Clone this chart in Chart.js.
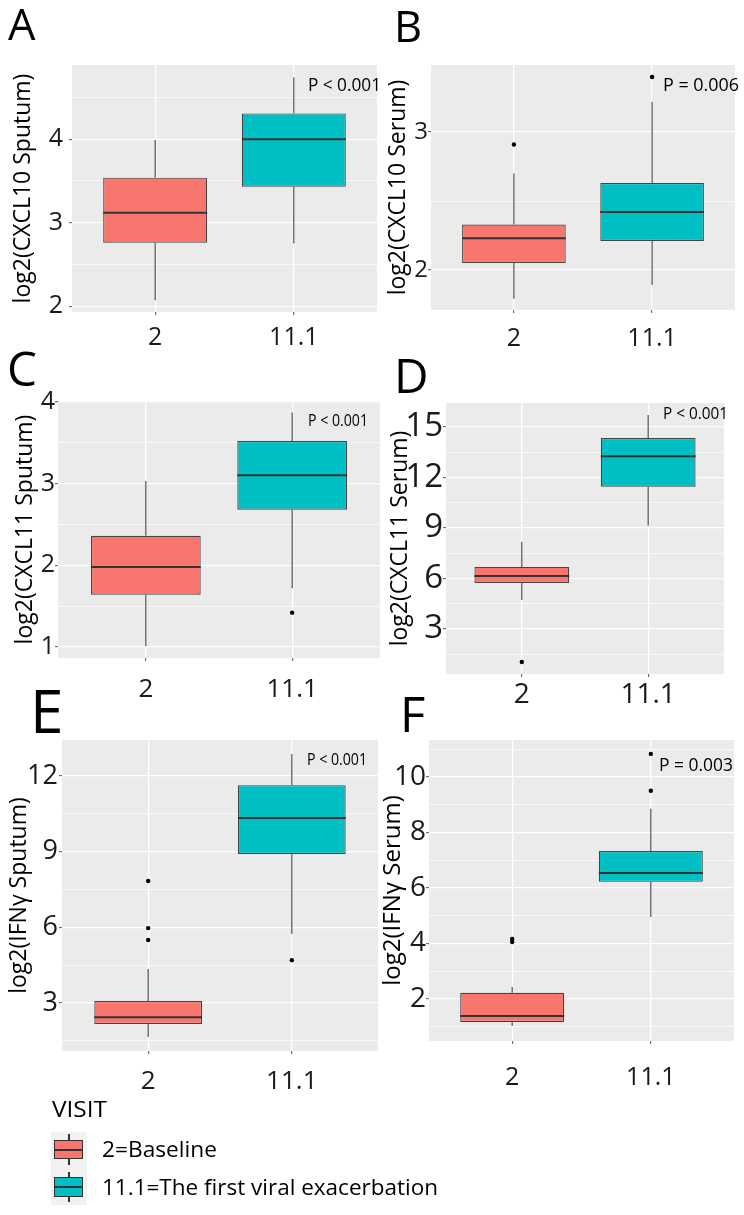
<!DOCTYPE html>
<html>
<head>
<meta charset="utf-8">
<script src="https://cdn.jsdelivr.net/npm/chart.js@4.4.0/dist/chart.umd.min.js"></script>
<style>
  body { margin: 0; background: #fff; }
  #fig { position: relative; width: 744px; height: 1215px; overflow: hidden; font-family: 'Open Sans', sans-serif; color: #000; }
  #fig canvas { position: absolute; }
  .txt { position: absolute; white-space: nowrap; line-height: 1; transform-origin: 0 0; }
  .blk { position: absolute; box-sizing: border-box; }
</style>
</head>
<body>
<div id="fig"></div>
<script>
// visits on the x axis
const visits = ["2", "11.1"];
const visitNames = ["2=Baseline", "11.1=The first viral exacerbation"];
const boxColors = ["#F8766D", "#00BFC4"];

// box stats: [lower whisker, Q1, median, Q3, upper whisker]
const cxcl10SputumV2 = [2.07, 2.76, 3.12, 3.54, 3.99];
const cxcl10SputumV11 = [2.75, 3.43, 4.00, 4.31, 4.74];
const cxcl10SputumOut2 = [];
const cxcl10SputumOut11 = [];
const cxcl10SputumTicks = [2, 3, 4];

const cxcl10SerumV2 = [1.79, 2.05, 2.23, 2.33, 2.70];
const cxcl10SerumV11 = [1.89, 2.21, 2.42, 2.63, 3.22];
const cxcl10SerumOut2 = [2.91];
const cxcl10SerumOut11 = [3.40];
const cxcl10SerumTicks = [2, 3];

const cxcl11SputumV2 = [1.01, 1.64, 1.98, 2.36, 3.03];
const cxcl11SputumV11 = [1.72, 2.68, 3.10, 3.52, 3.87];
const cxcl11SputumOut2 = [];
const cxcl11SputumOut11 = [1.42];
const cxcl11SputumTicks = [1, 2, 3, 4];

const cxcl11SerumV2 = [4.73, 5.74, 6.15, 6.69, 8.18];
const cxcl11SerumV11 = [9.13, 11.45, 13.27, 14.35, 15.71];
const cxcl11SerumOut2 = [1.04];
const cxcl11SerumOut11 = [];
const cxcl11SerumTicks = [3, 6, 9, 12, 15];

const ifngSputumV2 = [1.65, 2.17, 2.44, 3.08, 4.35];
const ifngSputumV11 = [5.74, 8.91, 10.34, 11.64, 12.87];
const ifngSputumOut2 = [5.50, 5.97, 7.84];
const ifngSputumOut11 = [4.70];
const ifngSputumTicks = [3, 6, 9, 12];

const ifngSerumV2 = [1.03, 1.17, 1.39, 2.22, 2.43];
const ifngSerumV11 = [4.95, 6.22, 6.54, 7.33, 8.85];
const ifngSerumOut2 = [4.05, 4.16];
const ifngSerumOut11 = [9.50, 10.83];
const ifngSerumTicks = [2, 4, 6, 8, 10];

const pLabels = ["P < 0.001", "P = 0.006", "P < 0.001", "P < 0.001", "P < 0.001", "P = 0.003"];

// layout of each panel (plot = [left, top, right, bottom] in page px)
const panels = [
  { letter: "A", title: "log2(CXCL10 Sputum)", stats: [cxcl10SputumV2, cxcl10SputumV11], out: [cxcl10SputumOut2, cxcl10SputumOut11], ticks: cxcl10SputumTicks,
    col: 0, plot: [72, 65, 377, 312], yr: [1.93, 4.89], yFont: 25, xFont: 25, yPad: 6, xPad: 8, titleFont: 23, titleC: 23,
    letterPos: [8, 10, 31], pPos: [308, 78, 13.5, 73] },
  { letter: "B", title: "log2(CXCL10 Serum)", stats: [cxcl10SerumV2, cxcl10SerumV11], out: [cxcl10SerumOut2, cxcl10SerumOut11], ticks: cxcl10SerumTicks,
    col: 1, plot: [431, 65, 735, 310], yr: [1.709, 3.487], yFont: 24, xFont: 25, yPad: 0, xPad: 11, titleFont: 23, titleC: 398,
    letterPos: [394, 12, 31], pPos: [663, 79, 12.5, 76] },
  { letter: "C", title: "log2(CXCL11 Sputum)", stats: [cxcl11SputumV2, cxcl11SputumV11], out: [cxcl11SputumOut2, cxcl11SputumOut11], ticks: cxcl11SputumTicks,
    col: 0, plot: [58, 401, 380, 658], yr: [0.865, 4.01], yFont: 25, xFont: 26, yPad: 0, xPad: 13, titleFont: 23, titleC: 25,
    letterPos: [7, 352, 34], pPos: [308, 416, 11, 60] },
  { letter: "D", title: "log2(CXCL11 Serum)", stats: [cxcl11SerumV2, cxcl11SerumV11], out: [cxcl11SerumOut2, cxcl11SerumOut11], ticks: cxcl11SerumTicks,
    col: 1, plot: [446, 403, 724, 674], yr: [0.326, 16.43], yFont: 33, xFont: 28, yPad: 0, xPad: 1, titleFont: 23, titleC: 400,
    letterPos: [394, 359, 34], pPos: [663, 408, 11.5, 65] },
  { letter: "E", title: "log2(IFNγ Sputum)", stats: [ifngSputumV2, ifngSputumV11], out: [ifngSputumOut2, ifngSputumOut11], ticks: ifngSputumTicks,
    col: 0, plot: [62, 740, 378, 1051], yr: [1.097, 13.43], yFont: 27, xFont: 26, yPad: 1, xPad: 12, titleFont: 23, titleC: 19,
    letterPos: [30, 690, 43], pPos: [307, 755, 11, 60] },
  { letter: "F", title: "log2(IFNγ Serum)", stats: [ifngSerumV2, ifngSerumV11], out: [ifngSerumOut2, ifngSerumOut11], ticks: ifngSerumTicks,
    col: 1, plot: [429, 740, 734, 1041], yr: [0.486, 11.33], yFont: 28, xFont: 25, yPad: 0, xPad: 19, titleFont: 24, titleC: 393,
    letterPos: [400, 698, 35], pPos: [659, 758, 13, 74] }
];

const fig = document.getElementById('fig');
Chart.defaults.font.family = "'Open Sans', sans-serif";

const panelBg = {
  id: 'panelBg',
  beforeDraw(chart) {
    const { ctx, chartArea: a } = chart;
    ctx.save();
    ctx.fillStyle = '#ebebeb';
    ctx.fillRect(a.left, a.top, a.right - a.left, a.bottom - a.top);
    ctx.restore();
  }
};

// text placed by its cap-top; optional width squeezes it to the measured span
function addText(str, x, capTop, capH, width) {
  const fs = capH / 0.714;
  const d = document.createElement('div');
  d.className = 'txt';
  d.textContent = str;
  d.style.fontSize = fs + 'px';
  d.style.left = x + 'px';
  d.style.top = (capTop - 0.174 * fs) + 'px';
  fig.appendChild(d);
  if (width) {
    const w = d.getBoundingClientRect().width;
    d.style.transform = 'scaleX(' + (width / w) + ')';
  }
  return d;
}

function minorTicks(major, lo, hi) {
  const step = major[1] - major[0];
  const res = [];
  for (let v = major[0] - step / 2; v <= hi; v += step) if (v >= lo) res.push(v);
  return res;
}

function makePanel(pn, k) {
  const [l, t, r, b] = pn.plot;
  const cl = pn.col === 0 ? 0 : 372;
  const ct = t - 25;
  const xh = 70;
  const cv = document.createElement('canvas');
  cv.width = r + 4 - cl;
  cv.height = b - ct + xh;
  cv.style.left = cl + 'px';
  cv.style.top = ct + 'px';
  fig.appendChild(cv);

  const isMajor = v => pn.ticks.some(m => Math.abs(m - v) < 1e-6);
  const yTicks = pn.ticks.concat(minorTicks(pn.ticks, pn.yr[0], pn.yr[1])).sort((a, c) => a - c);

  const datasets = [];
  pn.stats.forEach((s, i) => {
    const x = i + 1;
    datasets.push({ type: 'line', data: [{ x, y: s[0] }, { x, y: s[1] }], borderColor: '#444', borderWidth: 1.1, pointRadius: 0, order: 3 });
    datasets.push({ type: 'line', data: [{ x, y: s[3] }, { x, y: s[4] }], borderColor: '#444', borderWidth: 1.1, pointRadius: 0, order: 3 });
    datasets.push({ type: 'line', data: [{ x: x - 0.375, y: s[2] }, { x: x + 0.375, y: s[2] }], borderColor: '#333333', borderWidth: 2, pointRadius: 0, order: 1 });
    datasets.push({ type: 'scatter', data: pn.out[i].map(y => ({ x, y })), pointRadius: 2.2, backgroundColor: '#000', borderWidth: 0, order: 0 });
  });
  datasets.push({
    type: 'bar',
    data: pn.stats.map((s, i) => ({ x: i + 1, y: [s[1], s[3]] })),
    backgroundColor: boxColors, borderColor: '#444', borderWidth: 1.2, borderSkipped: false,
    barPercentage: 0.75, categoryPercentage: 1, order: 2
  });

  new Chart(cv, {
    type: 'scatter',
    data: { datasets },
    plugins: [panelBg],
    options: {
      responsive: false, animation: false, events: [], devicePixelRatio: 1,
      layout: { padding: { top: 25, right: 4, left: 0, bottom: 0 } },
      plugins: { legend: { display: false }, tooltip: { enabled: false } },
      scales: {
        x: {
          type: 'linear', min: 0.4, max: 2.6, offset: false, bounds: 'data',
          afterBuildTicks: ax => { ax.ticks = visits.map((v, i) => ({ value: i + 1 })); },
          afterFit: ax => { ax.height = xh; },
          ticks: { callback: v => visits[Math.round(v) - 1], font: { size: pn.xFont }, color: '#1a1a1a', padding: pn.xPad, maxRotation: 0, autoSkip: false },
          grid: { offset: false, color: '#fff', lineWidth: 1.3, tickColor: '#555', tickLength: 3, tickWidth: 1 },
          border: { display: false }
        },
        y: {
          type: 'linear', min: pn.yr[0], max: pn.yr[1], bounds: 'data', beginAtZero: false,
          afterBuildTicks: ax => { ax.ticks = yTicks.map(v => ({ value: v })); },
          afterFit: ax => { ax.width = l - cl; },
          ticks: { callback: v => isMajor(v) ? String(v) : '', font: { size: pn.yFont }, color: '#1a1a1a', padding: pn.yPad, autoSkip: false },
          grid: {
            offset: false,
            color: '#fff',
            lineWidth: ctx => (ctx.tick && isMajor(ctx.tick.value)) ? 1.3 : 0.7,
            tickColor: ctx => (ctx.tick && isMajor(ctx.tick.value)) ? '#555' : 'rgba(0,0,0,0)',
            tickLength: 3, tickWidth: 1
          },
          border: { display: false },
          title: {
            display: true, text: pn.title, color: '#000',
            font: { size: pn.titleFont },
            padding: { top: pn.titleC - cl - 0.6 * pn.titleFont, bottom: 0 }
          }
        }
      }
    }
  });

  addText(pn.letter, pn.letterPos[0], pn.letterPos[1], pn.letterPos[2]);
  addText(pLabels[k], pn.pPos[0], pn.pPos[1], pn.pPos[2], pn.pPos[3]);
}

panels.forEach(makePanel);

// legend
addText("VISIT", 52, 1102, 16, 55);
const keyBg = document.createElement('div');
keyBg.className = 'blk';
Object.assign(keyBg.style, { left: '51px', top: '1132px', width: '36px', height: '73px', background: '#f2f2f2' });
fig.appendChild(keyBg);
const keyRows = [{ box: [1140, 19], wh: [1134, 1165], txt: [1143, 15, 115] }, { box: [1177, 20], wh: [1172, 1202], txt: [1180, 16, 336] }];
keyRows.forEach((kr, i) => {
  const w = document.createElement('div');
  w.className = 'blk';
  Object.assign(w.style, { left: '68px', top: kr.wh[0] + 'px', width: '1.5px', height: (kr.wh[1] - kr.wh[0]) + 'px', background: '#333' });
  fig.appendChild(w);
  const bx = document.createElement('div');
  bx.className = 'blk';
  Object.assign(bx.style, { left: '54px', top: kr.box[0] + 'px', width: '29px', height: kr.box[1] + 'px', background: boxColors[i], border: '1.5px solid #333' });
  fig.appendChild(bx);
  const md = document.createElement('div');
  md.className = 'blk';
  Object.assign(md.style, { left: '54px', top: (kr.box[0] + kr.box[1] / 2 - 1) + 'px', width: '29px', height: '2px', background: '#333' });
  fig.appendChild(md);
  addText(visitNames[i], 102, kr.txt[0], kr.txt[1], kr.txt[2]);
});
</script>
</body>
</html>
